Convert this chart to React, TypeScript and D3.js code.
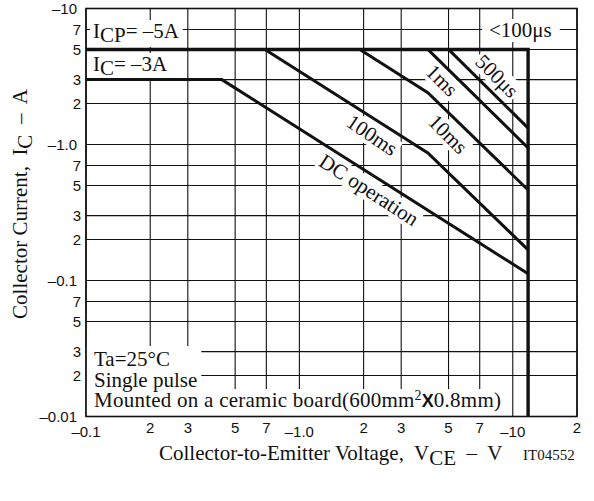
import React, { useEffect, useRef } from 'react';
import * as d3 from 'd3';

const W = 594;
const H = 501;

const xTicks = [0.1, 0.2, 0.3, 0.5, 0.7, 1, 2, 3, 5, 7, 10, 20];
const xTickLabels = ['–0.1', '2', '3', '5', '7', '–1.0', '2', '3', '5', '7', '–10', '2'];
const xDecades = [0.1, 1, 10];
const yTicks = [0.01, 0.02, 0.03, 0.05, 0.07, 0.1, 0.2, 0.3, 0.5, 0.7, 1, 2, 3, 5, 7, 10];
const yTickLabels = ['–0.01', '2', '3', '5', '7', '–0.1', '2', '3', '5', '7', '–1.0', '2', '3', '5', '7', '–10'];

// SOA boundary: ICP = -5A up to VCEO limit, then vertical drop
const boundary: [number, number][] = [[0.1, 5], [11.8, 5], [11.8, 0.01]];
const dcLine: [number, number][] = [[0.1, 3], [0.433, 3], [11.8, 0.112]];
const line100ms: [number, number][] = [[0.69, 5], [4.0, 0.866], [11.8, 0.168]];
const line10ms: [number, number][] = [[1.92, 5], [4.0, 2.4], [11.8, 0.463]];
const line1ms: [number, number][] = [[4.0, 5], [11.8, 0.943]];
const line500us: [number, number][] = [[5.0, 5], [11.8, 1.32]];

const curveLabels = [
  { text: '500μs', v: 8.43, i: 3.19, angle: 45 },
  { text: '1ms', v: 4.65, i: 2.96, angle: 45 },
  { text: '10ms', v: 4.97, i: 1.19, angle: 45 },
  { text: '100ms', v: 2.19, i: 1.17, angle: 34 },
  { text: 'DC operation', v: 2.12, i: 0.463, angle: 33 },
];

const SERIF = "'Liberation Serif', 'Times New Roman', serif";
const SANS = "'Liberation Sans', Arial, sans-serif";
const FS = 21;

export default function App() {
  const ref = useRef<SVGSVGElement>(null);

  useEffect(() => {
    const svg = d3.select(ref.current);
    svg.selectAll('*').remove();

    const x = d3.scaleLog().domain([0.1, 20]).range([86, 577]);
    const y = d3.scaleLog().domain([0.01, 10]).range([416.5, 8.5]);

    svg.append('rect').attr('width', W).attr('height', H).attr('fill', '#fff');

    const gridL = svg.append('g');
    const bgL = svg.append('g');
    const lineL = svg.append('g');
    const textL = svg.append('g');
    const frameL = svg.append('g');

    // grid
    gridL.selectAll('line.gx').data(xTicks).join('line')
      .attr('x1', d => x(d)).attr('x2', d => x(d))
      .attr('y1', y(0.01)).attr('y2', y(10))
      .attr('stroke', '#111').attr('stroke-width', 1.1);
    gridL.selectAll('line.gy').data(yTicks).join('line')
      .attr('y1', d => y(d)).attr('y2', d => y(d))
      .attr('x1', x(0.1)).attr('x2', x(20))
      .attr('stroke', '#111').attr('stroke-width', 1.1);

    // tick labels
    textL.selectAll('text.xt').data(xTicks).join('text')
      .attr('x', d => x(d))
      .attr('y', d => (xDecades.includes(d) ? 437 : 433))
      .attr('text-anchor', 'middle')
      .attr('font-family', SANS).attr('font-size', 15).attr('fill', '#111')
      .text((d, i) => xTickLabels[i]);
    textL.selectAll('text.yt').data(yTicks).join('text')
      .attr('x', (d, i) => (yTickLabels[i].length > 1 ? 77 : 81))
      .attr('y', d => y(d) + 5.3)
      .attr('text-anchor', 'end')
      .attr('font-family', SANS).attr('font-size', 15).attr('fill', '#111')
      .text((d, i) => yTickLabels[i]);

    // curves
    const lg = d3.line<[number, number]>().x(d => x(d[0])).y(d => y(d[1]));
    [dcLine, line100ms, line10ms, line1ms, line500us].forEach(p => {
      lineL.append('path').attr('d', lg(p)).attr('fill', 'none')
        .attr('stroke', '#111').attr('stroke-width', 3).attr('stroke-linejoin', 'miter');
    });
    lineL.append('path').attr('d', lg(boundary)).attr('fill', 'none')
      .attr('stroke', '#111').attr('stroke-width', 3.4);

    // curve labels with white background
    curveLabels.forEach(l => {
      const tr = `translate(${x(l.v)},${y(l.i)}) rotate(${l.angle})`;
      const t = textL.append('text').attr('transform', tr)
        .attr('text-anchor', 'middle').attr('dominant-baseline', 'central')
        .attr('font-family', SERIF).attr('font-size', FS).attr('fill', '#111')
        .text(l.text);
      const b = (t.node() as SVGTextElement).getBBox();
      bgL.append('rect').attr('transform', tr)
        .attr('x', b.x - 2).attr('y', b.y + 1).attr('width', b.width + 4).attr('height', b.height - 2)
        .attr('fill', '#fff');
    });

    const addBg = (t: d3.Selection<SVGTextElement, unknown, null, undefined>, padL = 3, padR = 3) => {
      const b = (t.node() as SVGTextElement).getBBox();
      bgL.append('rect').attr('x', b.x - padL).attr('y', b.y + 1)
        .attr('width', b.width + padL + padR).attr('height', b.height - 1).attr('fill', '#fff');
    };

    // ICP / IC labels
    const icp = textL.append('text').attr('x', 93).attr('y', 38)
      .attr('font-family', SERIF).attr('font-size', FS).attr('fill', '#111');
    icp.append('tspan').text('I');
    icp.append('tspan').attr('dy', 4).text('CP');
    icp.append('tspan').attr('dy', -4).text('= –5A');
    addBg(icp);

    const ic = textL.append('text').attr('x', 93).attr('y', 71)
      .attr('font-family', SERIF).attr('font-size', FS).attr('fill', '#111');
    ic.append('tspan').text('I');
    ic.append('tspan').attr('dy', 4).text('C');
    ic.append('tspan').attr('dy', -4).text('= –3A');
    addBg(ic);

    const lt = textL.append('text').attr('x', 489).attr('y', 37)
      .attr('font-family', SERIF).attr('font-size', FS).attr('fill', '#111')
      .text('<100μs');
    addBg(lt, 7, 8);

    // conditions block (single text element, three lines)
    const cb = textL.append('text').attr('x', 94).attr('y', 366)
      .attr('font-family', SERIF).attr('font-size', FS).attr('fill', '#111');
    const l1 = cb.append('tspan').attr('x', 94).attr('y', 366).text('Ta=25°C');
    const l2 = cb.append('tspan').attr('x', 94).attr('y', 386.5).text('Single pulse');
    const l3a = cb.append('tspan').attr('x', 94).attr('y', 407).attr('letter-spacing', 0.25)
      .text('Mounted on a ceramic board(600mm');
    cb.append('tspan').attr('font-size', 14).attr('dy', -7).attr('letter-spacing', 0.25).text('2');
    cb.append('tspan').attr('dy', 7).attr('font-family', SANS).attr('font-weight', 'bold').attr('font-size', 18).text('X');
    const l3d = cb.append('tspan').attr('letter-spacing', 0.25).text('0.8mm)');

    const bb = (s: any) => (s.node() as SVGGraphicsElement).getBBox();
    const b1 = bb(l1), b2 = bb(l2), b3a = bb(l3a), b3d = bb(l3d);
    const right12 = Math.max(b1.x + b1.width, b2.x + b2.width);
    bgL.append('rect').attr('x', 86.5).attr('y', b1.y - 1)
      .attr('width', right12 + 4 - 86.5).attr('height', 416 - (b1.y - 1)).attr('fill', '#fff');
    bgL.append('rect').attr('x', 86.5).attr('y', b3a.y + 1)
      .attr('width', b3d.x + b3d.width + 4 - 86.5).attr('height', 416 - (b3a.y + 1)).attr('fill', '#fff');

    // axis titles
    const xt = textL.append('text').attr('x', 159).attr('y', 460)
      .attr('font-family', SERIF).attr('font-size', FS).attr('fill', '#111')
      .attr('xml:space', 'preserve');
    xt.append('tspan').text('Collector-to-Emitter Voltage,  V');
    xt.append('tspan').attr('dy', 5).text('CE');
    xt.append('tspan').attr('dy', -5).text('  –  V');
    textL.append('text').attr('x', 523).attr('y', 460)
      .attr('font-family', SERIF).attr('font-size', 15).attr('fill', '#111').text('IT04552');

    const yt = textL.append('text')
      .attr('transform', 'translate(27,204) rotate(-90)')
      .attr('text-anchor', 'middle')
      .attr('font-family', SERIF).attr('font-size', FS).attr('fill', '#111')
      .attr('xml:space', 'preserve');
    yt.append('tspan').text('Collector Current,  I');
    yt.append('tspan').attr('dy', 5).text('C');
    yt.append('tspan').attr('dy', -5).text('  –  A');

    // frame
    frameL.append('rect').attr('x', 86).attr('y', 8.5).attr('width', 577 - 86).attr('height', 416.5 - 8.5)
      .attr('fill', 'none').attr('stroke', '#111').attr('stroke-width', 1.6);
  }, []);

  return (
    <svg ref={ref} width={W} height={H} style={{ position: 'absolute', left: 0, top: 0, display: 'block' }} />
  );
}
